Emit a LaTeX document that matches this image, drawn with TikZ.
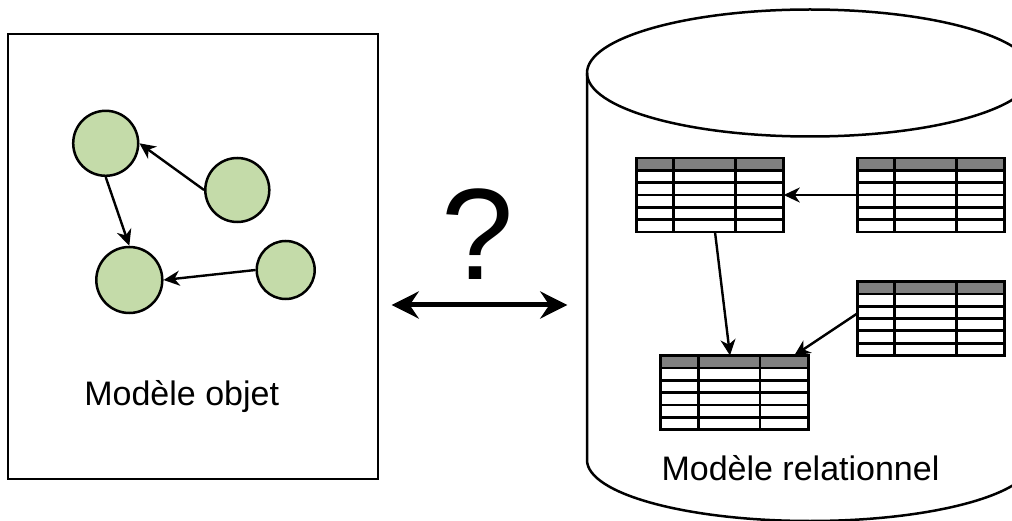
\documentclass[tikz,border=0pt]{standalone}
\usepackage{fontspec}
\setmainfont{Liberation Sans}
\usetikzlibrary{arrows.meta,calc}

\definecolor{objgreen}{HTML}{C4DBA9}
\definecolor{hdrgray}{HTML}{808080}

\tikzset{
  frame/.style={draw=black, line width=2.5pt},
  obj/.style={circle, draw=black, fill=objgreen, line width=2.5pt, inner sep=0pt},
  conn/.style={line width=2.4pt, -{Stealth[length=16pt,width=15pt,inset=5pt]}},
  bigarrow/.style={line width=5pt, {Stealth[length=27pt,width=27pt,inset=9pt]}-{Stealth[length=27pt,width=27pt,inset=9pt]}},
  tbl/.style={rectangle, draw=black, line width=2.8pt, fill=white,
    minimum width=147.5pt, minimum height=74pt, inner sep=0pt, outer sep=0pt},
  gridline/.style={line width=2.8pt},
  label/.style={font=\fontsize{34}{40}\selectfont, anchor=base, inner sep=0pt},
}

% a table: header band in gray, five rows, three columns
\newcommand{\dbtable}[2]{%
  \node[tbl] (#1) at (#2) {};
  \fill[hdrgray] ([xshift=1pt,yshift=-1pt]#1.north west) rectangle ([xshift=-1pt,yshift=-12.5pt]#1.north east);
  \foreach \k in {0,...,4}
    \draw[gridline] ([yshift={-12.5pt-\k*12.3pt}]#1.north west) -- ([yshift={-12.5pt-\k*12.3pt}]#1.north east);
  \draw[gridline] ([xshift=37.6pt]#1.north west) -- ([xshift=37.6pt]#1.south west);
  \draw[gridline] ([xshift=99.3pt]#1.north west) -- ([xshift=99.3pt]#1.south west);
  \draw[gridline] (#1.north west) rectangle (#1.south east);
}

\begin{document}
\begin{tikzpicture}[x=1pt,y=-1pt]
  \useasboundingbox (0,0) rectangle (1012,521);
  \fill[white] (0,0) rectangle (1012,521);
  \clip (0,0) rectangle (1012,521);

  % object model
  \draw[frame] (8,34) rectangle (378,479);
  \node[obj, minimum size=65pt] (c1) at (105.7,143.3) {};
  \node[obj, minimum size=64pt] (c2) at (237.3,190) {};
  \node[obj, minimum size=66pt] (c3) at (129.3,280) {};
  \node[obj, minimum size=58pt] (c4) at (285.7,270) {};
  \draw[conn] (c2.west) -- (c1.east);
  \draw[conn] (c1.south) -- (c3.north);
  \draw[conn] (c4.west) -- (c3.east);
  \node[label] (objlbl) at (181.7,405) {Modèle objet};

  % mapping question
  \node[font=\fontsize{130}{150}\selectfont, anchor=base, inner sep=0pt] (q) at (478,280) {?};
  \coordinate (da1) at (391.7,305);
  \coordinate (da2) at (567.3,305);
  \draw[bigarrow] (da1) -- (da2);

  % relational model: database cylinder
  \draw[frame] (587,73) -- (587,460) arc[start angle=180, end angle=360, x radius=223, y radius=-61] -- (1033,73);
  \draw[frame] (810,73) ellipse [x radius=223, y radius=63.5];

  \dbtable{t1}{710,195}
  \dbtable{t2}{931,195}
  \dbtable{t3}{931,318.5}
  \dbtable{t4}{734.5,392.5}
  \draw[conn] (t2.west) -- (t1.east);
  \draw[conn] ([xshift=5pt]t1.south) -- ([xshift=-4.5pt]t4.north);
  \draw[conn] ([yshift=5pt]t3.west) -- ([xshift=-14pt]t4.north east);
  \node[label] (rellbl) at (800.5,480) {Modèle relationnel};
\end{tikzpicture}
\end{document}
